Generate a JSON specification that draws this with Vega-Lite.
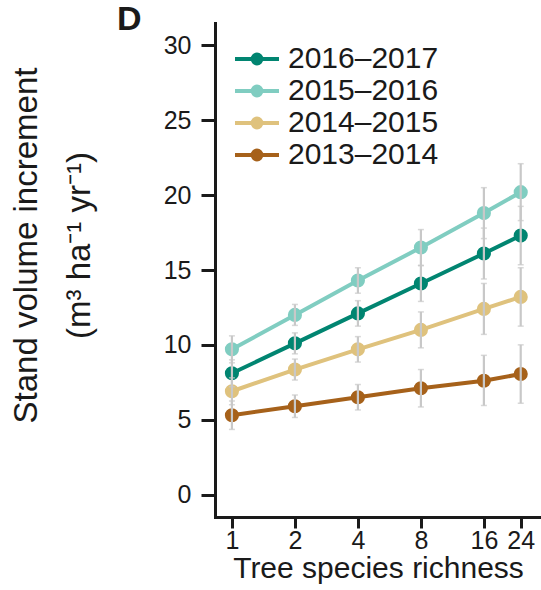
{
  "$schema": "https://vega.github.io/schema/vega-lite/v6.json",
  "autosize": "none",
  "padding": {"left": 215, "top": 23, "right": 0, "bottom": 73},
  "width": 326,
  "height": 494,
  "background": "white",
  "title": {"text": "D", "anchor": "start", "frame": "group", "orient": "top", "font": "Liberation Sans", "fontSize": 34, "fontWeight": "bold", "color": "#1a1a1a", "dx": -98, "dy": 41, "offset": 0, "baseline": "alphabetic"},
  "config": {
    "view": {"stroke": null},
    "font": "Liberation Sans",
    "axis": {"grid": false, "domainColor": "#1a1a1a", "domainWidth": 3, "domainCap": "square", "tickColor": "#1a1a1a", "tickWidth": 3, "labelFont": "Liberation Sans", "labelFontSize": 25, "labelColor": "#1a1a1a", "titleFont": "Liberation Sans", "titleFontWeight": "normal", "titleColor": "#1a1a1a"}
  },
  "data": {"values": [
    {"year": "2016–2017", "richness": 1, "mean": 8.1, "lo": 7.2, "hi": 9.0},
    {"year": "2016–2017", "richness": 2, "mean": 10.1, "lo": 9.4, "hi": 10.8},
    {"year": "2016–2017", "richness": 4, "mean": 12.1, "lo": 11.25, "hi": 12.95},
    {"year": "2016–2017", "richness": 8, "mean": 14.1, "lo": 12.9, "hi": 15.3},
    {"year": "2016–2017", "richness": 16, "mean": 16.1, "lo": 14.4, "hi": 17.8},
    {"year": "2016–2017", "richness": 24, "mean": 17.3, "lo": 15.35, "hi": 19.25},
    {"year": "2015–2016", "richness": 1, "mean": 9.7, "lo": 8.8, "hi": 10.6},
    {"year": "2015–2016", "richness": 2, "mean": 12.0, "lo": 11.3, "hi": 12.7},
    {"year": "2015–2016", "richness": 4, "mean": 14.3, "lo": 13.45, "hi": 15.15},
    {"year": "2015–2016", "richness": 8, "mean": 16.5, "lo": 15.3, "hi": 17.7},
    {"year": "2015–2016", "richness": 16, "mean": 18.8, "lo": 17.1, "hi": 20.5},
    {"year": "2015–2016", "richness": 24, "mean": 20.2, "lo": 18.3, "hi": 22.1},
    {"year": "2014–2015", "richness": 1, "mean": 6.9, "lo": 6.0, "hi": 7.8},
    {"year": "2014–2015", "richness": 2, "mean": 8.35, "lo": 7.65, "hi": 9.05},
    {"year": "2014–2015", "richness": 4, "mean": 9.7, "lo": 8.85, "hi": 10.55},
    {"year": "2014–2015", "richness": 8, "mean": 11.0, "lo": 9.8, "hi": 12.2},
    {"year": "2014–2015", "richness": 16, "mean": 12.4, "lo": 10.7, "hi": 14.1},
    {"year": "2014–2015", "richness": 24, "mean": 13.2, "lo": 11.25, "hi": 15.15},
    {"year": "2013–2014", "richness": 1, "mean": 5.3, "lo": 4.35, "hi": 6.25},
    {"year": "2013–2014", "richness": 2, "mean": 5.9, "lo": 5.15, "hi": 6.65},
    {"year": "2013–2014", "richness": 4, "mean": 6.5, "lo": 5.65, "hi": 7.35},
    {"year": "2013–2014", "richness": 8, "mean": 7.1, "lo": 5.85, "hi": 8.35},
    {"year": "2013–2014", "richness": 16, "mean": 7.6, "lo": 5.95, "hi": 9.3},
    {"year": "2013–2014", "richness": 24, "mean": 8.05, "lo": 6.1, "hi": 10.0}
  ]},
  "layer": [
    {
      "mark": {"type": "line", "strokeWidth": 4, "point": {"filled": true, "size": 200, "opacity": 1}},
      "encoding": {
        "x": {"field": "richness", "type": "quantitative", "title": "Tree species richness",
              "scale": {"type": "log", "base": 2, "domain": [0.83, 30], "nice": false, "zero": false},
              "axis": {"values": [1, 2, 4, 8, 16, 24], "titleFontSize": 30, "tickSize": 11, "labelPadding": 0, "titlePadding": 0, "labelFlush": false, "labelOverlap": false}},
        "y": {"field": "mean", "type": "quantitative", "title": ["Stand volume increment", "(m³ ha⁻¹ yr⁻¹)"],
              "scale": {"domain": [-1.5, 31.5], "nice": false, "zero": false},
              "axis": {"values": [0, 5, 10, 15, 20, 25, 30], "titleFontSize": 33, "titleLineHeight": 53, "tickSize": 14, "labelPadding": 10,
                       "titleX": -172, "titleY": 222, "titleAlign": "center", "titleBaseline": "bottom", "titleAngle": -90}},
        "color": {"field": "year", "type": "nominal",
                  "scale": {"domain": ["2016–2017", "2015–2016", "2014–2015", "2013–2014"], "range": ["#018571", "#80cdc1", "#dfc27d", "#a6611a"]},
                  "legend": {"orient": "none", "legendX": 18, "legendY": 20, "title": null,
                             "symbolType": "M-1,0L1,0M-0.2,0A0.2,0.2 0 1,1 0.2,0A0.2,0.2 0 1,1 -0.2,0Z",
                             "symbolSize": 1936, "symbolStrokeWidth": 4, "rowPadding": 0, "clipHeight": 32,
                             "labelFont": "Liberation Sans", "labelFontSize": 30, "labelColor": "#1a1a1a", "labelOffset": 7,
                             "encode": {"symbols": {"update": {"fill": {"scale": "color", "field": "value"}, "stroke": {"scale": "color", "field": "value"}, "fillOpacity": {"value": 1}, "opacity": {"value": 1}}}}}}
      }
    },
    {
      "mark": {"type": "errorbar", "ticks": {"size": 6, "thickness": 1.5}, "color": "#c8c8c8", "thickness": 2.2},
      "encoding": {
        "x": {"field": "richness", "type": "quantitative", "title": "Tree species richness"},
        "y": {"field": "lo", "type": "quantitative", "title": ["Stand volume increment", "(m³ ha⁻¹ yr⁻¹)"]},
        "y2": {"field": "hi"}
      }
    }
  ]
}
